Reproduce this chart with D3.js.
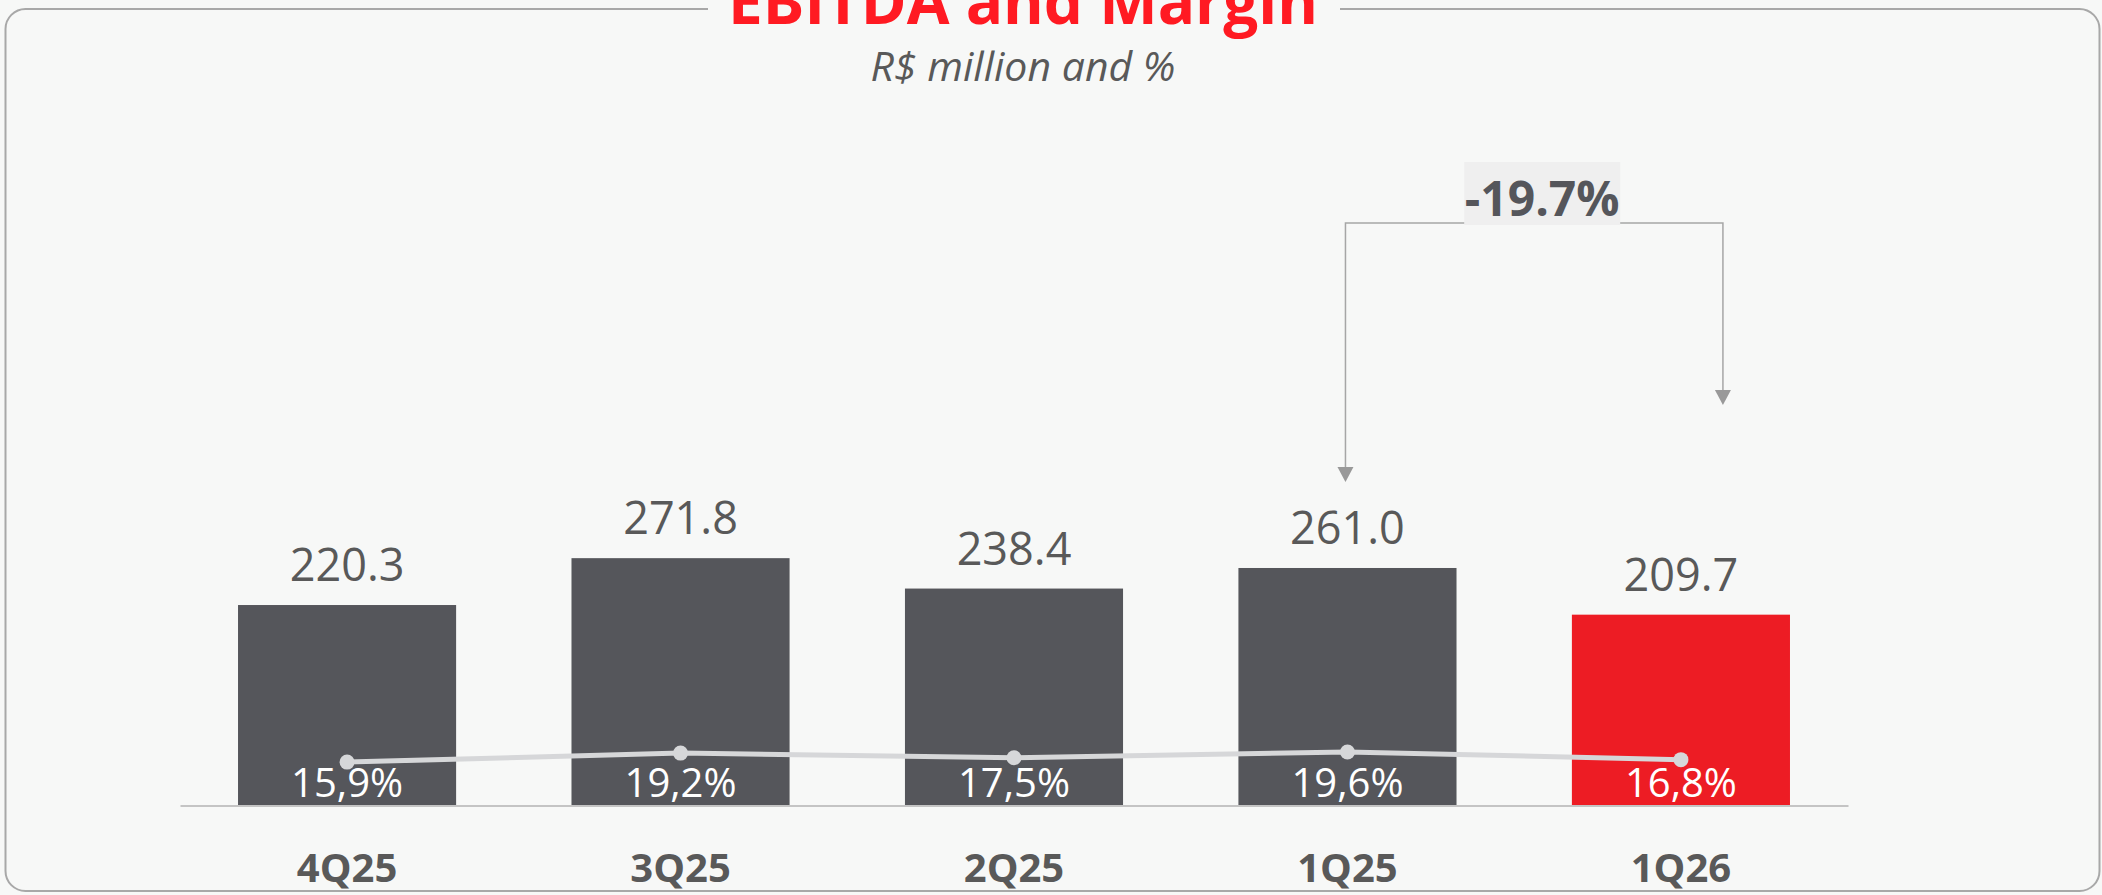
<!DOCTYPE html>
<html>
<head>
<meta charset="utf-8">
<script src="https://cdn.jsdelivr.net/npm/d3@7"></script>
<style>
  html, body { margin: 0; padding: 0; background: #f7f8f7; }
  svg { display: block; }
  text { font-family: "Open Sans", "Noto Sans", sans-serif; }
</style>
</head>
<body>
<svg id="chart" width="2102" height="895"></svg>
<script>
const categories = ["4Q25", "3Q25", "2Q25", "1Q25", "1Q26"];
const ebitda = [220.3, 271.8, 238.4, 261.0, 209.7];
const margin = [15.9, 19.2, 17.5, 19.6, 16.8];
const marginLabels = ["15,9%", "19,2%", "17,5%", "19,6%", "16,8%"];
const barColors = ["#55565b", "#55565b", "#55565b", "#55565b", "#ed1c24"];

const W = 2102, H = 895;
const svg = d3.select("#chart");
const baseY = 805.5;

// background and frame
svg.append("rect").attr("width", W).attr("height", H).attr("fill", "#f7f8f7");
svg.append("rect")
  .attr("x", 5.5).attr("y", 9).attr("width", 2094).attr("height", 882)
  .attr("rx", 20).attr("ry", 20)
  .attr("fill", "#f7f8f7").attr("stroke", "#a8a8a8").attr("stroke-width", 2);
// gap in the frame for the title
svg.append("rect").attr("x", 708).attr("y", 0).attr("width", 632).attr("height", 20)
  .attr("fill", "#f7f8f7");

// title & subtitle
svg.append("text").attr("x", 1023).attr("y", 24).attr("text-anchor", "middle")
  .attr("font-weight", 700).attr("font-size", 62).attr("fill", "#ff1a22")
  .text("EBITDA and Margin");
svg.append("text").attr("x", 1023).attr("y", 81).attr("text-anchor", "middle")
  .attr("font-style", "italic").attr("font-size", 41).attr("fill", "#595959")
  .text("R$ million and %");

// scales
const x = d3.scaleBand().domain(categories).range([180, 1848])
  .paddingInner(0.346).paddingOuter(0.174);
const y = d3.scaleLinear().domain([0, 300]).range([baseY, baseY - 0.91 * 300]);
const ym = d3.scaleLinear().domain([0, 20]).range([baseY, baseY - 2.73 * 20]);

// bars
svg.append("g").selectAll("rect").data(categories).join("rect")
  .attr("x", d => x(d)).attr("width", x.bandwidth())
  .attr("y", (d, i) => y(ebitda[i])).attr("height", (d, i) => baseY - y(ebitda[i]))
  .attr("fill", (d, i) => barColors[i]);

// baseline axis
const xAxis = d3.axisBottom(x).tickSize(0).tickPadding(0);
const gx = svg.append("g").attr("transform", `translate(0,${baseY})`).call(xAxis);
gx.select(".domain").attr("stroke", "#c4c4c4").attr("stroke-width", 2);
gx.selectAll(".tick text").attr("y", 76).attr("dy", 0)
  .attr("font-family", "'Open Sans', sans-serif")
  .attr("font-size", 40).attr("font-weight", 700).attr("fill", "#595959");

// value labels
svg.append("g").selectAll("text").data(categories).join("text")
  .attr("x", d => x(d) + x.bandwidth() / 2)
  .attr("y", (d, i) => y(ebitda[i]) - 24)
  .attr("text-anchor", "middle").attr("font-size", 45).attr("fill", "#595959")
  .text((d, i) => ebitda[i].toFixed(1));

// margin line
const line = d3.line().x((d, i) => x(categories[i]) + x.bandwidth() / 2).y(d => ym(d));
svg.append("path").datum(margin).attr("d", line)
  .attr("fill", "none").attr("stroke", "#d6d7d9").attr("stroke-width", 5);
svg.append("g").selectAll("circle").data(margin).join("circle")
  .attr("cx", (d, i) => x(categories[i]) + x.bandwidth() / 2)
  .attr("cy", d => ym(d)).attr("r", 7.5).attr("fill", "#d6d7d9");

// margin labels
svg.append("g").selectAll("text").data(marginLabels).join("text")
  .attr("x", (d, i) => x(categories[i]) + x.bandwidth() / 2)
  .attr("y", 796.5)
  .attr("text-anchor", "middle").attr("font-size", 40).attr("fill", "#ffffff")
  .text(d => d);

// variation annotation 1Q25 -> 1Q26
const iA = 3, iB = 4;
const change = (ebitda[iB] / ebitda[iA] - 1) * 100;
const xA = x(categories[iA]) + x.bandwidth() / 2 - 2;
const xB = x(categories[iB]) + x.bandwidth() / 2 + 42;
const topY = 223;
const tipA = 482, tipB = 405, ah = 15, aw = 8;
svg.append("path")
  .attr("d", `M${xA},${tipA - ah}V${topY}H${xB}V${tipB - ah}`)
  .attr("fill", "none").attr("stroke", "#a6a6a6").attr("stroke-width", 1.5);
[[xA, tipA], [xB, tipB]].forEach(([ax, ty]) => {
  svg.append("path")
    .attr("d", `M${ax - aw},${ty - ah}L${ax + aw},${ty - ah}L${ax},${ty}Z`)
    .attr("fill", "#999999");
});
const cx = (xA + xB) / 2 + 8;
svg.append("rect").attr("x", cx - 78).attr("y", 162).attr("width", 156).attr("height", 63)
  .attr("fill", "#efefef");
svg.append("text").attr("x", cx).attr("y", 216).attr("text-anchor", "middle")
  .attr("font-size", 48).attr("font-weight", 700).attr("fill", "#55565b")
  .text(change.toFixed(1) + "%");
</script>
</body>
</html>
